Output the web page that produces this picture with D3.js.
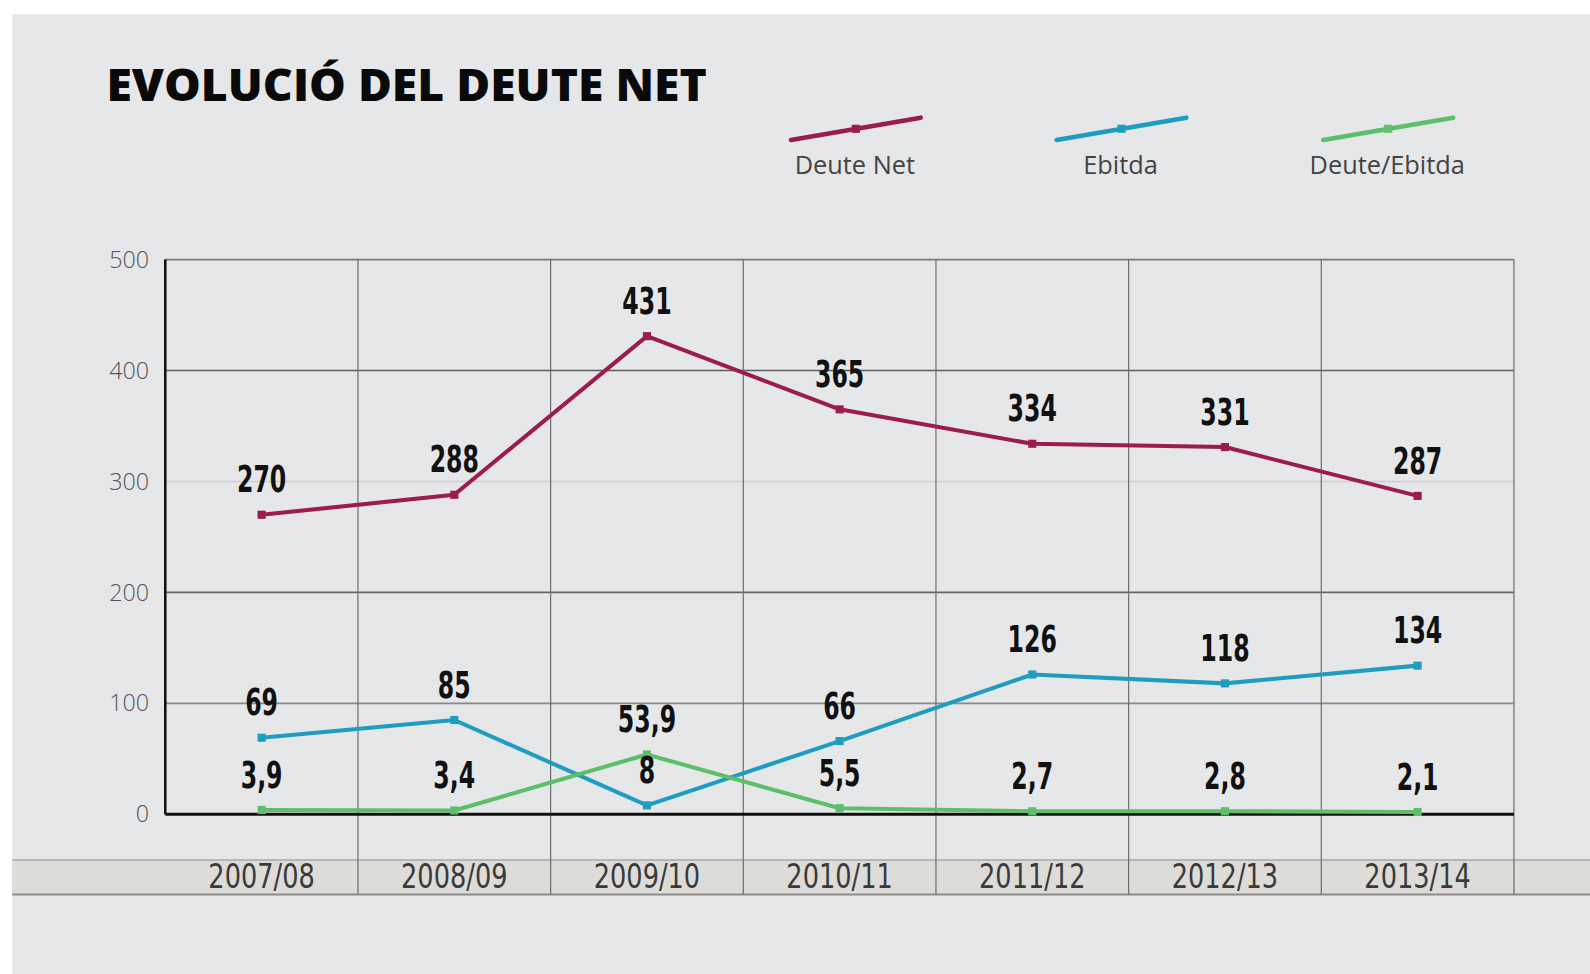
<!DOCTYPE html>
<html>
<head>
<meta charset="utf-8">
<script src="https://cdn.jsdelivr.net/npm/d3@7"></script>
<style>
  html, body { margin: 0; padding: 0; background: #ffffff; }
  svg { display: block; }
</style>
</head>
<body>
<svg id="chart" width="1590" height="974" viewBox="0 0 1568 960.5" preserveAspectRatio="none"></svg>
<script>
// ---- data ----
const categories = ["2007/08", "2008/09", "2009/10", "2010/11", "2011/12", "2012/13", "2013/14"];
const deuteNet = [270, 288, 431, 365, 334, 331, 287];
const ebitda = [69, 85, 8, 66, 126, 118, 134];
const deuteEbitda = [3.9, 3.4, 53.9, 5.5, 2.7, 2.8, 2.1];
const seriesNames = ["Deute Net", "Ebitda", "Deute/Ebitda"];
const yTicks = [0, 100, 200, 300, 400, 500];
const title = "EVOLUCIÓ DEL DEUTE NET";

const colors = ["#9c1c4c", "#1f9dc0", "#5dbe6b"];
const series = [deuteNet, ebitda, deuteEbitda];

const svg = d3.select("#chart");
const W = 1568, H = 960.5;

// background panel
svg.append("rect").attr("x", 12).attr("y", 14).attr("width", W - 12).attr("height", H - 14).attr("fill", "#e6e7e9");

const pLeft = 163, pRight = 1493, pTop = 256, pBottom = 803;
const x = d3.scaleBand().domain(categories).range([pLeft, pRight]);
const y = d3.scaleLinear().domain([0, 500]).range([pBottom, pTop]);
const locale = d3.formatLocale({decimal: ",", thousands: ".", grouping: [3], currency: ["", "€"]});
const fmt = v => Number.isInteger(v) ? String(v) : locale.format(".1f")(v);

// x label band
const bandTop = 848, bandBot = 882;
svg.append("rect").attr("x", 12).attr("y", bandTop).attr("width", W - 12).attr("height", bandBot - bandTop).attr("fill", "#dddcd8");
svg.append("line").attr("x1", 12).attr("x2", W).attr("y1", bandTop).attr("y2", bandTop).attr("stroke", "#a8a8a8").attr("stroke-width", 1.5);
svg.append("line").attr("x1", 12).attr("x2", W).attr("y1", bandBot).attr("y2", bandBot).attr("stroke", "#8c8c8c").attr("stroke-width", 2);

// horizontal gridlines
const gridColor = {500: "#7a7a7a", 400: "#5e5e5e", 300: "#cfcfcf", 200: "#666", 100: "#8a8a8a"};
svg.append("g").selectAll("line").data(yTicks.filter(t => t > 0)).join("line")
  .attr("x1", pLeft).attr("x2", pRight)
  .attr("y1", d => y(d)).attr("y2", d => y(d))
  .attr("stroke", d => gridColor[d]).attr("stroke-width", 1.6);

// vertical gridlines (band boundaries)
const vlines = categories.slice(1).map(c => x(c)).concat([pRight]);
svg.append("g").selectAll("line").data(vlines).join("line")
  .attr("x1", d => d).attr("x2", d => d)
  .attr("y1", pTop).attr("y2", bandBot)
  .attr("stroke", "#6f6f6f").attr("stroke-width", 1.2);

// axes lines
svg.append("line").attr("x1", pLeft).attr("x2", pLeft).attr("y1", pTop).attr("y2", pBottom).attr("stroke", "#111").attr("stroke-width", 2.5);
svg.append("line").attr("x1", pLeft).attr("x2", pRight).attr("y1", pBottom).attr("y2", pBottom).attr("stroke", "#111").attr("stroke-width", 3);

// y tick labels
svg.append("g").selectAll("text").data(yTicks).join("text")
  .attr("x", 147).attr("y", d => y(d) + 8)
  .attr("text-anchor", "end")
  .attr("font-family", "'Open Sans', sans-serif").attr("font-weight", 300)
  .attr("font-size", 23).attr("fill", "#555")
  .text(d => d);

// x labels
svg.append("g").selectAll("text").data(categories).join("text")
  .attr("x", d => x(d) + x.bandwidth() / 2).attr("y", 876)
  .attr("text-anchor", "middle")
  .attr("font-family", "'DejaVu Sans Condensed', 'DejaVu Sans', sans-serif").attr("font-weight", 400)
  .attr("font-size", 34).attr("fill", "#3a3a3a")
  .attr("textLength", 105).attr("lengthAdjust", "spacingAndGlyphs")
  .text(d => d);

// series lines
const line = d3.line().x((d, i) => x(categories[i]) + x.bandwidth() / 2).y(d => y(d));
series.forEach((s, k) => {
  svg.append("path").datum(s).attr("d", line)
    .attr("fill", "none").attr("stroke", colors[k]).attr("stroke-width", 4).attr("stroke-linejoin", "round");
  svg.append("g").selectAll("rect").data(s).join("rect")
    .attr("x", (d, i) => x(categories[i]) + x.bandwidth() / 2 - 4)
    .attr("y", d => y(d) - 4).attr("width", 8).attr("height", 8)
    .attr("fill", colors[k]);
});

// data labels
series.forEach((s, k) => {
  svg.append("g").selectAll("text").data(s).join("text")
    .attr("transform", (d, i) => `translate(${x(categories[i]) + x.bandwidth() / 2},${y(d) - 22}) scale(0.7,1)`)
    .attr("text-anchor", "middle")
    .attr("font-family", "'DejaVu Sans Condensed', 'DejaVu Sans', sans-serif").attr("font-weight", 700)
    .attr("font-size", 37).attr("fill", "#111")
    .text(d => fmt(d));
});

// title
svg.append("text").attr("x", 105).attr("y", 100)
  .attr("font-family", "'Open Sans', sans-serif").attr("font-weight", 800)
  .attr("font-size", 44).attr("fill", "#0a0a0a")
  .attr("textLength", 592).attr("lengthAdjust", "spacingAndGlyphs")
  .text(title);

// legend
const legendX = [780, 1042, 1305];
seriesNames.forEach((name, k) => {
  const g = svg.append("g").attr("transform", `translate(${legendX[k]},0)`);
  g.append("line").attr("x1", 0).attr("y1", 138).attr("x2", 128).attr("y2", 116)
    .attr("stroke", colors[k]).attr("stroke-width", 4.5).attr("stroke-linecap", "round");
  g.append("rect").attr("x", 60).attr("y", 123).attr("width", 8).attr("height", 8).attr("fill", colors[k]);
  g.append("text").attr("x", 63).attr("y", 172).attr("text-anchor", "middle")
    .attr("font-family", "'Open Sans', sans-serif").attr("font-weight", 400)
    .attr("font-size", 25).attr("fill", "#444")
    .text(name);
});
</script>
</body>
</html>
